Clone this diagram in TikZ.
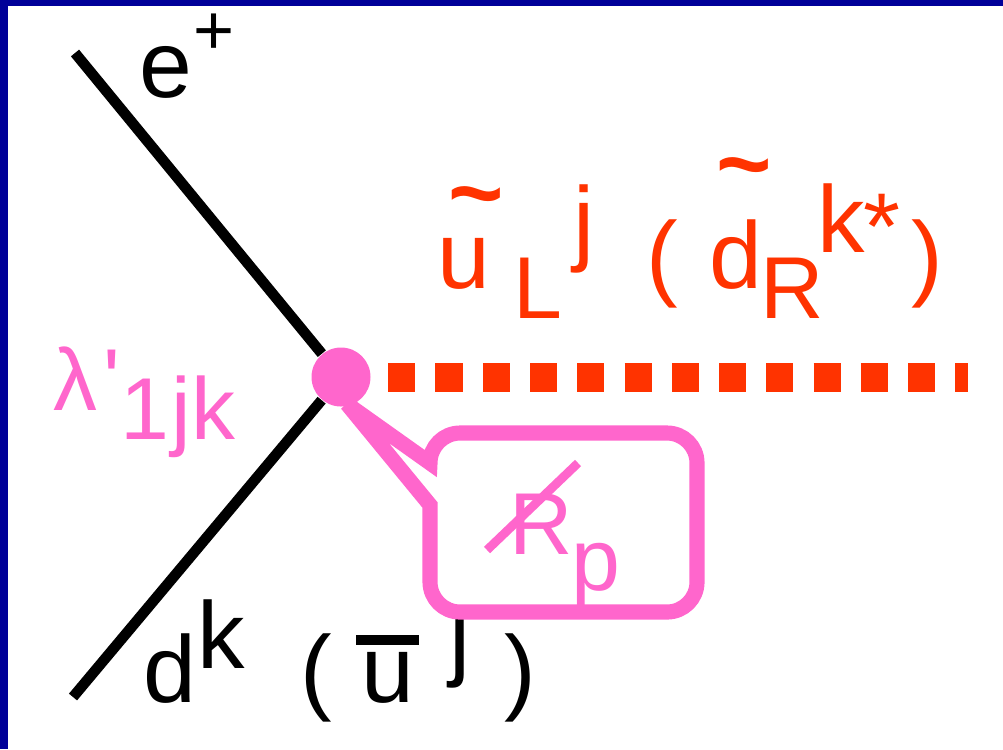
\documentclass[tikz,border=0pt]{standalone}
\usepackage{fontspec}
\setmainfont{Liberation Sans}
\newfontfamily\plainfont{Liberation Sans}
\definecolor{framecol}{HTML}{000099}
\definecolor{vertexcol}{HTML}{FF66CC}
\definecolor{scalarcol}{HTML}{FF3300}
\tikzset{
  lab/.style={anchor=base west, inner sep=0pt, font=\fontsize{27}{30}\selectfont},
  labsub/.style={anchor=base west, inner sep=0pt, font=\fontsize{25}{30}\selectfont},
  labtiny/.style={anchor=base west, inner sep=0pt, font=\fontsize{20}{24}\selectfont}
}
\begin{document}
\begin{tikzpicture}
\useasboundingbox (0,0) rectangle (10.03,7.49);
% ---------- frame: left and top only ----------
\fill[framecol] (0,0) rectangle (0.08,7.49);
\fill[framecol] (0,7.43) rectangle (10.03,7.49);
% ---------- vertex and the three legs ----------
\node[circle, fill=vertexcol, inner sep=0pt, minimum size=0.59cm] (vertex) at (3.41,3.72) {};
\coordinate (eplusend) at (0.75,6.96);
\coordinate (dend) at (0.73,0.52);
\coordinate (scalarend) at (9.68,3.72);
\draw[line width=3pt] (eplusend) -- (vertex);
\draw[line width=3pt] (dend) -- (vertex);
\draw[scalarcol, line width=8.25pt, dash pattern=on 7.7pt off 5.75pt, shorten <=0.17cm] (vertex.east) -- (scalarend);
% black labels
\foreach \name/\x/\y/\lab in {e/1.39/6.52/e, d/1.43/0.47/d, k/1.97/0.81/k, lpar/3.00/0.47/(, ubar/3.61/0.47/u, jbar/4.49/0.81/j, rpar/5.04/0.47/)} {
  \node[lab] (\name) at (\x,\y) {\lab};
}
\node[labtiny] (plus) at (1.93,6.95) {+};
\fill (3.56,1.04) rectangle (4.19,1.14);
% ---------- the callout with its tail ----------
\coordinate (tailtip) at (3.47,3.45);
\draw[vertexcol, fill=white, line width=4.3pt, miter limit=4] (tailtip) -- (4.30,2.44) -- (4.30,1.67)
  arc[start angle=180, end angle=270, radius=0.30] -- (6.67,1.37)
  arc[start angle=270, end angle=360, radius=0.30] -- (6.97,2.86)
  arc[start angle=0, end angle=90, radius=0.30] -- (4.60,3.16)
  arc[start angle=90, end angle=180, radius=0.30] -- cycle;
% pink labels
\foreach \name/\x/\y/\lab in {lambda/0.53/3.39/λ, prime/1.03/3.39/{\plainfont\char"27}, one/1.20/3.10/1, jgen/1.71/3.10/j, kgen/1.91/3.10/k, rpv/5.09/1.95/R, psub/5.71/1.59/p} {
  \node[labsub, text=vertexcol] (\name) at (\x,\y) {\lab};
}
\draw[vertexcol, line width=2.5pt] (4.87,1.99) -- (5.78,2.86);
% red labels
\foreach \name/\x/\y/\lab in {uL/4.37/4.61/u, tildeu/4.48/5.24/{\bfseries\char"7E}, jL/5.73/4.96/j, lparr/6.46/4.61/(, dR/7.09/4.61/d, tilded/7.16/5.53/{\bfseries\char"7E}, kR/8.17/4.97/k, rparr/9.11/4.61/)} {
  \node[lab, text=scalarcol] (\name) at (\x,\y) {\lab};
}
\node[labsub, text=scalarcol] (L) at (5.13,4.31) {L};
\node[labsub, text=scalarcol] (R) at (7.60,4.31) {R};
\node[lab, text=scalarcol] (star) at (8.63,4.90) {*};
\end{tikzpicture}
\end{document}
